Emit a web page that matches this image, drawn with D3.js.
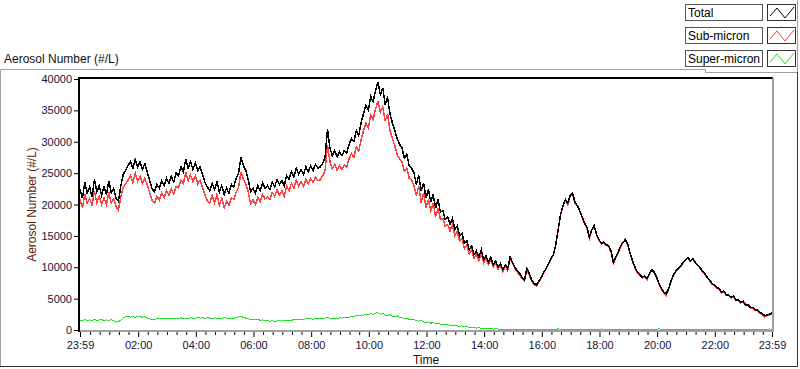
<!DOCTYPE html>
<html>
<head>
<meta charset="utf-8">
<script src="https://cdn.jsdelivr.net/npm/d3@7"></script>
<style>
  body { margin: 0; background: #fff; }
  text { font-family: "Liberation Sans", Arial, sans-serif; }
</style>
</head>
<body>
<script>
// one sample every 5 minutes, starting at 23:59
stepMin = 5;

total = [
  22500, 21000, 23500, 21800, 22800, 21200, 24000, 22000, 23000, 21500,
  22800, 21600, 23800, 21900, 22600, 21000, 20500, 23000, 24800, 25500,
  26200, 26800, 25800, 27200, 26000, 26800, 25600, 26500, 25200, 23800,
  22500, 22000, 23200, 22600, 23800, 23000, 24200, 23400, 24500, 23600,
  25000, 24600, 26000, 25200, 27200, 25800, 26800, 25600, 26600, 25400,
  26000, 24800, 23500, 22800, 22200, 23400, 22400, 23600, 22000, 23000,
  21600, 22600, 21800, 23200, 22800, 24200, 25000, 27600, 26200, 25400,
  24000, 22000, 22600, 21800, 23000, 22200, 23400, 22600, 23000, 22400,
  23600, 22800, 24000, 23200, 23800, 23000, 24600, 24000, 25200, 24400,
  25800, 24800, 25600, 24800, 26000, 25200, 26200, 25400, 26400, 25800,
  26000, 26600, 27500, 32000, 29000, 27800, 28600, 27600, 28400, 27800,
  28600, 28200, 29600, 30500, 30000, 31800, 31000, 33000, 34500, 35800,
  35000, 37200, 36400, 38200, 39500, 37500, 38600, 36000, 37000, 34500,
  33000, 31800, 30500, 29600, 29000, 27400, 28000, 26200, 25800, 25000,
  23200, 24600, 22200, 23400, 21000, 22400, 20400, 21600, 19400, 20800,
  18800, 19000, 17600, 18000, 16800, 17800, 16000, 16600, 15000, 15400,
  13800, 14200, 12800, 13400, 12000, 12600, 11600, 12800, 11200, 11800,
  10800, 11600, 10400, 11000, 10000, 10600, 9600, 10400, 9800, 11600,
  10800, 10000, 9400, 9000, 8400, 8000, 9800, 9000, 8000, 7400,
  7200, 7800, 8400, 9200, 9800, 10600, 11400, 12000, 13600, 16000,
  18400, 19800, 20800, 20200, 21400, 21800, 20400, 19800, 19000, 18000,
  17000, 16400, 14800, 16000, 16600, 15200, 14400, 13800, 14000, 13600,
  13400, 12600, 10800, 11600, 12400, 13400, 14000, 14400, 13600, 12200,
  11000, 10000, 9200, 8800, 8400, 8600, 8200, 9000, 9600, 9200,
  8400, 7400, 6600, 6000, 5800, 6600, 7800, 8800, 9400, 9800,
  10200, 10800, 11200, 11600, 11000, 11400, 10800, 10400, 10000, 9400,
  9000, 8400, 8000, 7400, 7200, 6800, 6600, 6000, 6200, 5600,
  5600, 5200, 5400, 4800, 4800, 4400, 4600, 4000, 4000, 3600,
  3600, 3200, 3200, 2800, 2600, 2300, 2400, 2500, 2700
];

subMicron = [
  20800, 19500, 21700, 20200, 21000, 19800, 22100, 20300, 21300, 20000,
  21100, 20000, 21900, 20200, 20900, 19700, 19100, 21300, 22700, 23300,
  23900, 24600, 23500, 25000, 23700, 24500, 23400, 24200, 23100, 21900,
  20700, 20200, 21300, 20700, 21800, 21100, 22200, 21500, 22500, 21700,
  22900, 22600, 23900, 23300, 25100, 23800, 24700, 23600, 24600, 23300,
  23900, 22700, 21500, 20600, 20200, 21400, 20300, 21600, 19900, 21000,
  19500, 20500, 19900, 21100, 20800, 22000, 22700, 25200, 24000, 23300,
  22000, 20100, 20700, 20000, 21100, 20500, 21600, 20900, 21200, 20800,
  21900, 21300, 22300, 21500, 22200, 21300, 22900, 22200, 23400, 22600,
  23900, 22900, 23600, 22900, 24000, 23300, 24100, 23500, 24400, 23800,
  23900, 24600, 25400, 29500, 26900, 25700, 26400, 25500, 26200, 25600,
  26300, 26000, 27300, 28100, 27500, 29200, 28500, 30300, 31800, 33000,
  32200, 34300, 33600, 35200, 36500, 34700, 35600, 33300, 34400, 31800,
  30500, 29400, 27900, 27300, 26800, 25300, 25800, 24200, 23900, 23000,
  21400, 22900, 20300, 21800, 19500, 20800, 19000, 20200, 18100, 19400,
  17600, 17800, 16500, 16800, 15800, 16800, 15000, 15700, 14200, 14500,
  13000, 13500, 12100, 12800, 11400, 12100, 11000, 12400, 10700, 11400,
  10400, 11200, 10100, 10600, 9700, 10300, 9300, 10100, 9500, 11400,
  10600, 9800, 9200, 8700, 8200, 7800, 9600, 8700, 7800, 7200,
  7000, 7700, 8300, 9100, 9700, 10500, 11300, 11900, 13500, 15900,
  18300, 19700, 20700, 19900, 21300, 21700, 20200, 19700, 18900, 17900,
  16900, 16200, 14600, 15900, 16500, 15100, 14300, 13700, 13900, 13500,
  13300, 12400, 10600, 11500, 12300, 13300, 13900, 14300, 13500, 12100,
  10900, 9800, 9100, 8700, 8300, 8500, 8000, 8900, 9500, 9100,
  8300, 7300, 6500, 5900, 5500, 6500, 7700, 8700, 9300, 9700,
  10100, 10700, 11100, 11500, 10900, 11300, 10700, 10300, 9900, 9300,
  8900, 8300, 7900, 7300, 7100, 6700, 6500, 5900, 6100, 5500,
  5500, 5100, 5300, 4700, 4700, 4300, 4500, 3900, 3900, 3500,
  3500, 3100, 3100, 2700, 2500, 2100, 2300, 2400, 2600
];

superMicron = [
  1600, 1500, 1650, 1550, 1600, 1500, 1700, 1550, 1600, 1650,
  1500, 1600, 1550, 1650, 1500, 1250, 1300, 1600, 2000, 2100,
  2200, 2050, 2150, 2000, 2200, 2100, 2050, 2150, 1900, 1750,
  1700, 1650, 1800, 1750, 1850, 1800, 1900, 1750, 1850, 1800,
  1900, 1850, 1950, 1800, 1900, 1850, 1950, 1900, 1850, 2000,
  1900, 1950, 1850, 2000, 1900, 1850, 1950, 1800, 1900, 1850,
  1950, 1900, 1800, 1900, 1850, 2000, 2100, 2200, 2000, 1900,
  1800, 1700, 1750, 1600, 1700, 1550, 1600, 1500, 1550, 1400,
  1500, 1300, 1450, 1500, 1400, 1550, 1500, 1600, 1550, 1650,
  1700, 1650, 1750, 1700, 1800, 1750, 1850, 1700, 1800, 1750,
  1850, 1800, 1900, 2000, 1850, 1800, 1900, 1850, 1950, 1900,
  2000, 1950, 2050, 2100, 2200, 2300, 2250, 2400, 2350, 2500,
  2450, 2600, 2500, 2700, 2750, 2500, 2650, 2400, 2300, 2450,
  2200, 2100, 2250, 2000, 1950, 1800, 1900, 1700, 1600, 1700,
  1500, 1400, 1550, 1300, 1200, 1300, 1100, 1150, 1000, 1050,
  950, 900, 850, 900, 750, 700, 750, 650, 600, 650,
  550, 500, 450, 400, 350, 300, 350, 250, 300, 200,
  250, 200, 150, 200, 150, 100, 150, 100, 150, 100,
  100, 150, 100, 100, 150, 100, 100, 100, 150, 100,
  100, 100, 50, 50, 100, 50, 50, 100, 50, 200,
  50, 50, 100, 50, 50, 50, 100, 50, 50, 150,
  50, 50, 50, 100, 50, 50, 50, 200, 50, 50,
  100, 50, 50, 50, 100, 50, 50, 50, 50, 150,
  50, 50, 100, 50, 50, 50, 50, 100, 50, 50,
  50, 200, 50, 50, 50, 100, 50, 50, 50, 50,
  100, 50, 50, 150, 50, 50, 50, 100, 50, 50,
  50, 50, 100, 50, 50, 50, 50, 50, 150, 50,
  50, 50, 50, 100, 50, 50, 50, 50, 100, 50,
  50, 50, 50, 50, 100, 50, 50, 200, 50
];

// x ticks, minutes after 23:59
tickMinutes = [0, 121, 241, 361, 481, 601, 721, 841, 961, 1081, 1201, 1321, 1440];
tickLabels = ["23:59", "02:00", "04:00", "06:00", "08:00", "10:00", "12:00",
              "14:00", "16:00", "18:00", "20:00", "22:00", "23:59"];
yTicks = [0, 5000, 10000, 15000, 20000, 25000, 30000, 35000, 40000];

seriesNames = ["Total", "Sub-micron", "Super-micron"];
seriesColors = ["#000000", "#ff4040", "#22e022"];

w = 800;
h = 369;
margin = {top: 79, right: 28, bottom: 39, left: 80};

svg = d3.select("body")
  .append("svg")
    .attr("width", w)
    .attr("height", h);

x = d3.scaleLinear()
  .domain([0, 1440])
  .range([margin.left, w - margin.right]);
y = d3.scaleLinear()
  .domain([0, 40000])
  .range([h - margin.bottom, margin.top]);

// outer panel frame
svg.append("path")
  .attr("d", "M0.5,367 V69.5 H705.5 V72.5 H797.5 V0")
  .attr("fill", "none")
  .attr("stroke", "#a0a0a0");
svg.append("path")
  .attr("d", "M0,366.5 H797.5 V72")
  .attr("fill", "none")
  .attr("stroke", "#303030");

// title
svg.append("text")
  .attr("x", 4)
  .attr("y", 63)
  .attr("font-size", 12)
  .attr("fill", "#111")
  .text("Aerosol Number (#/L)");

// plot area border: dark top/left, light bottom/right
svg.append("line")
  .attr("x1", x(0) - 1).attr("x2", x(1440) + 1)
  .attr("y1", y(40000) - 1).attr("y2", y(40000) - 1)
  .attr("stroke", "#000").attr("stroke-width", 2);
svg.append("line")
  .attr("x1", x(1440) + 1).attr("x2", x(1440) + 1)
  .attr("y1", y(40000) - 1).attr("y2", y(0) + 1)
  .attr("stroke", "#a0a0a0").attr("stroke-width", 2);
svg.append("line")
  .attr("x1", x(0)).attr("x2", x(1440) + 2)
  .attr("y1", y(0) + 1).attr("y2", y(0) + 1)
  .attr("stroke", "#a0a0a0").attr("stroke-width", 2);

// lines
idx = d3.range(total.length);
line = (arr) => d3.line()
  .x((i) => x(i * stepMin))
  .y((i) => y(arr[i]))(idx);

plot = svg.append("g");
[superMicron, subMicron, total].forEach((arr, k) => {
  plot.append("path")
    .attr("d", line(arr))
    .attr("fill", "none")
    .attr("stroke", seriesColors[2 - k])
    .attr("stroke-width", k == 0 ? 1 : 1.5)
    .attr("shape-rendering", "crispEdges");
});

// y axis
yAxis = svg.append("g")
  .attr("transform", "translate(" + (x(0) - 1) + ",0)")
  .call(d3.axisLeft(y).tickValues(yTicks).tickSize(5).tickPadding(2).tickFormat(d3.format("d")));
yAxis.select(".domain").attr("stroke", "#000").attr("stroke-width", 2).attr("d", "M0," + (y(40000) - 2) + "V" + (y(0) + 2));
yAxis.selectAll("text").attr("font-size", 11).attr("font-family", "Liberation Sans, Arial").attr("fill", "#14143c");

// x axis, major + minor
minorTicks = d3.range(21, 1440, 20).filter((m) => tickMinutes.indexOf(m) < 0);
xMinor = svg.append("g")
  .attr("transform", "translate(0," + (y(0) + 2) + ")")
  .call(d3.axisBottom(x).tickValues(minorTicks).tickSize(3).tickFormat(""));
xMinor.select(".domain").remove();

xAxis = svg.append("g")
  .attr("transform", "translate(0," + (y(0) + 2) + ")")
  .call(d3.axisBottom(x).tickValues(tickMinutes).tickSize(5).tickPadding(4)
    .tickFormat((d, i) => tickLabels[i]));
xAxis.select(".domain").remove();
xAxis.selectAll("text").attr("font-size", 11).attr("font-family", "Liberation Sans, Arial").attr("fill", "#14143c");

// axis titles
svg.append("text")
  .attr("x", (x(0) + x(1440)) / 2)
  .attr("y", 364)
  .attr("text-anchor", "middle")
  .attr("font-size", 12)
  .attr("fill", "#111")
  .text("Time");

svg.append("text")
  .attr("transform", "translate(36," + (y(20000)) + ") rotate(-90)")
  .attr("text-anchor", "middle")
  .attr("font-size", 12)
  .attr("fill", "#5c1f08")
  .text("Aerosol Number (#/L)");

// legend
legend = svg.append("g");
seriesNames.forEach((name, k) => {
  var ly = 4 + k * 23;
  var row = legend.append("g").attr("transform", "translate(0," + ly + ")");
  row.append("rect")
    .attr("x", 685.5).attr("y", 0.5)
    .attr("width", 77).attr("height", 16)
    .attr("fill", "#fff").attr("stroke", "#555");
  row.append("text")
    .attr("x", 688).attr("y", 13)
    .attr("font-size", 12)
    .attr("fill", "#000")
    .text(name);
  row.append("rect")
    .attr("x", 767.5).attr("y", 0.5)
    .attr("width", 28).attr("height", 16)
    .attr("fill", "#fff").attr("stroke", "#333");
  row.append("polyline")
    .attr("points", "770,12 777,4 785,14 794,3")
    .attr("fill", "none")
    .attr("stroke", seriesColors[k]);
});
</script>
</body>
</html>
